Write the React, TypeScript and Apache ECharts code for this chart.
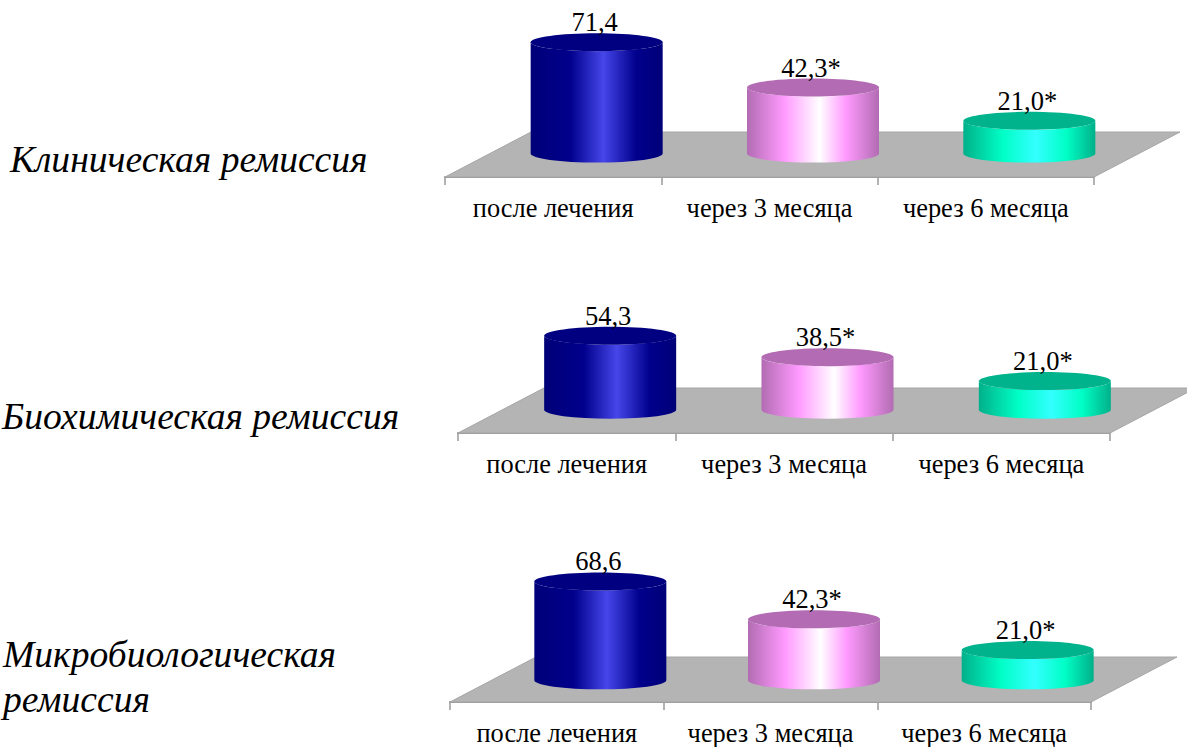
import React, { useEffect, useRef } from "react";
import * as echarts from "echarts";

// Periods shared by all three panels
const periods = ["после лечения", "через 3 месяца", "через 6 месяца"];

// Remission rates, %
const clinicalValues = [71.4, 42.3, 21.0];
const biochemicalValues = [54.3, 38.5, 21.0];
const microbiologicalValues = [68.6, 42.3, 21.0];

// Marks a significant difference from the first period
const significant = [false, true, true];

const clinicalTitle = ["Клиническая ремиссия"];
const biochemicalTitle = ["Биохимическая ремиссия"];
const microbiologicalTitle = ["Микробиологическая", "ремиссия"];

const SERIF = '"Liberation Serif", "Times New Roman", serif';

// Floor depth of the pseudo-3D plane and cylinder proportions
const DEPTH_X = 86;
const DEPTH_Y = 45;
const RADIUS_X = 66;
const RADIUS_Y = 9;

const sideStops = [
  [
    [0, "#000078"],
    [0.3, "#00008c"],
    [0.55, "#4646ea"],
    [0.8, "#00008c"],
    [1, "#000078"],
  ],
  [
    [0, "#b26cb2"],
    [0.28, "#ff99ff"],
    [0.55, "#ffffff"],
    [0.75, "#ff99ff"],
    [1, "#b26cb2"],
  ],
  [
    [0, "#00b08a"],
    [0.3, "#00ffc6"],
    [0.55, "#33ffff"],
    [0.78, "#00ffc6"],
    [1, "#00b08a"],
  ],
];
const topColors = ["#000080", "#b36cb3", "#00b38c"];

const panels = [
  { values: clinicalValues, left: 445, width: 649, top: 13.2, height: 163.8, min: -15, max: 90 },
  { values: biochemicalValues, left: 458, width: 652, top: 314.2, height: 118.8, min: -17, max: 70 },
  { values: microbiologicalValues, left: 450, width: 641, top: 565, height: 137, min: -15, max: 80 },
];

const formatValue = (value: number, index: number) =>
  value.toFixed(1).replace(".", ",") + (significant[index] ? "*" : "");

// The grey floor, laid out from the grid rectangle
const renderFloor = (params: any) => {
  const { x, y, width, height } = params.coordSys;
  const front = y + height;
  return {
    type: "polygon",
    shape: {
      points: [
        [x, front],
        [x + width, front],
        [x + width + DEPTH_X, front - DEPTH_Y],
        [x + DEPTH_X, front - DEPTH_Y],
      ],
    },
    style: { fill: "#b4b4b4", stroke: "#a6a6a6", lineWidth: 1 },
  };
};

// One cylinder: side wall, top cap and value caption
const renderCylinder = (params: any, api: any) => {
  const index = api.value(0);
  const value = api.value(1);
  const top = api.coord([index, value]);
  const base = api.coord([index, 0]);
  const cx = top[0] + DEPTH_X / 2 + 0.5;
  const left = cx - RADIUS_X;
  const right = cx + RADIUS_X;
  const wall =
    `M${left} ${top[1]}L${left} ${base[1]}` +
    `A${RADIUS_X} ${RADIUS_Y} 0 0 0 ${right} ${base[1]}` +
    `L${right} ${top[1]}` +
    `A${RADIUS_X} ${RADIUS_Y} 0 0 1 ${left} ${top[1]}Z`;
  return {
    type: "group",
    children: [
      {
        type: "path",
        shape: { pathData: wall },
        style: {
          fill: new echarts.graphic.LinearGradient(
            0,
            0,
            1,
            0,
            sideStops[index].map(([offset, color]) => ({ offset: offset as number, color: color as string }))
          ),
        },
      },
      {
        type: "ellipse",
        shape: { cx, cy: top[1], rx: RADIUS_X, ry: RADIUS_Y },
        style: { fill: topColors[index] },
      },
      {
        type: "text",
        style: {
          text: formatValue(value, index),
          x: cx - 2,
          y: top[1] - 20,
          align: "center",
          verticalAlign: "middle",
          fontFamily: SERIF,
          fontSize: 26.5,
          fill: "#000",
        },
      },
    ],
  };
};

const titleText = (text: string, left: number, top: number) => ({
  type: "text",
  left,
  top,
  style: { text, fontFamily: SERIF, fontStyle: "italic", fontSize: 37.6, fill: "#000" },
});

const option = {
  animation: false,
  backgroundColor: "#ffffff",
  grid: panels.map((p) => ({ left: p.left, width: p.width, top: p.top, height: p.height })),
  xAxis: panels.map((_, i) => ({
    type: "category",
    gridIndex: i,
    data: periods,
    position: "bottom",
    axisLine: { onZero: false, lineStyle: { color: "#9a9a9a", width: 2 } },
    axisTick: { show: true, length: 8, lineStyle: { color: "#9a9a9a", width: 1.5 } },
    axisLabel: { color: "#000", fontFamily: SERIF, fontSize: 26.4, margin: 18, interval: 0, hideOverlap: false },
    splitLine: { show: false },
  })),
  yAxis: panels.map((p, i) => ({
    type: "value",
    gridIndex: i,
    min: p.min,
    max: p.max,
    show: false,
    splitLine: { show: false },
  })),
  series: panels.flatMap((p, i) => [
    {
      type: "custom",
      xAxisIndex: i,
      yAxisIndex: i,
      data: [[0, 0]],
      clip: false,
      z: 1,
      silent: true,
      renderItem: renderFloor,
    },
    {
      type: "custom",
      xAxisIndex: i,
      yAxisIndex: i,
      data: p.values.map((v, k) => [k, v]),
      encode: { x: 0, y: 1 },
      clip: false,
      z: 5,
      silent: true,
      renderItem: renderCylinder,
    },
  ]),
  graphic: [
    titleText(clinicalTitle[0], 10, 140),
    titleText(biochemicalTitle[0], 2, 397),
    titleText(microbiologicalTitle[0], 3, 635),
    titleText(microbiologicalTitle[1], 3, 680),
  ],
};

export default function App() {
  const ref = useRef<HTMLDivElement>(null);
  useEffect(() => {
    const chart = echarts.init(ref.current!, null, { renderer: "svg" });
    chart.setOption(option as any);
    return () => chart.dispose();
  }, []);
  return (
    <div
      ref={ref}
      style={{ position: "absolute", left: 0, top: 0, width: 1187, height: 747, background: "#fff" }}
    />
  );
}
